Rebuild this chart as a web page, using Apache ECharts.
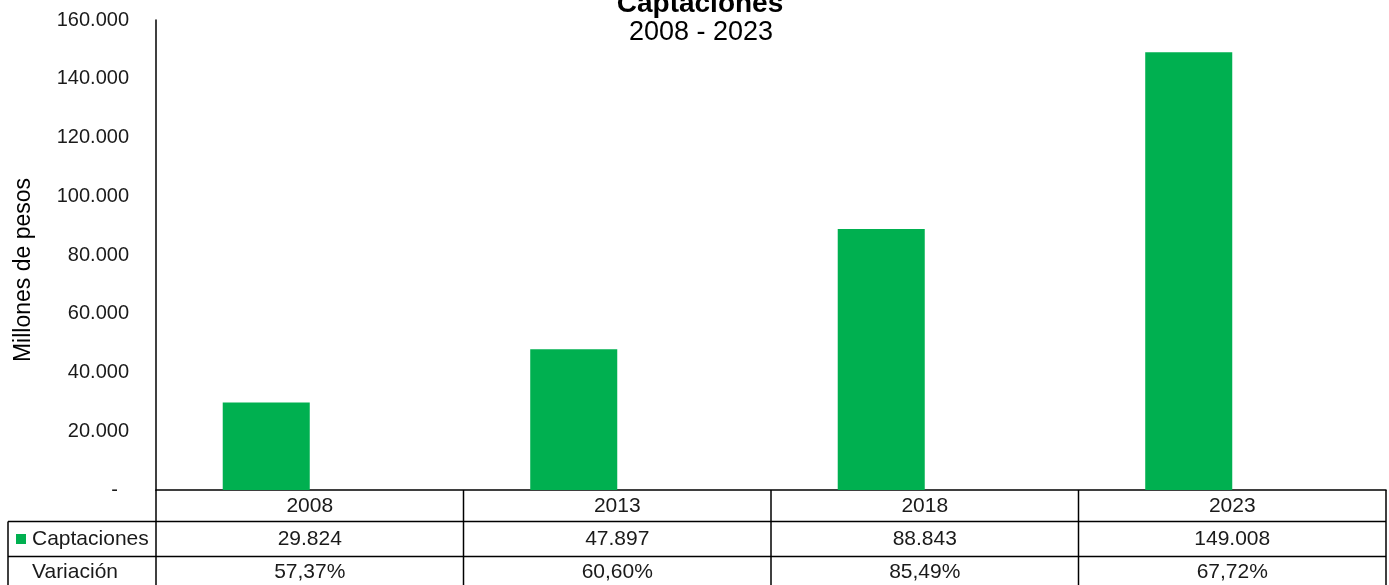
<!DOCTYPE html>
<html>
<head>
<meta charset="utf-8">
<script src="https://cdn.jsdelivr.net/npm/echarts@6/dist/echarts.min.js"></script>
<style>
html,body{margin:0;padding:0;background:#fff;}
#chart{width:1389px;height:585px;}
</style>
</head>
<body>
<div id="chart"></div>
<script>
const categories = ['2008', '2013', '2018', '2023'];
const captaciones = [29824, 47897, 88843, 149008];
const variacion = [57.37, 60.60, 85.49, 67.72];
const rowLabels = ['Captaciones', 'Variación'];
const yTicks = [0, 20000, 40000, 60000, 80000, 100000, 120000, 140000, 160000];

const FONT = '"Liberation Sans", Arial, Helvetica, sans-serif';
const TXT = '#1a1a1a';
const GREEN = '#00B050';
const W = 1389, H = 585;
const gridL = 156, gridR = 3, gridT = 20, gridB = 95;
const plotW = W - gridL - gridR;
const colW = plotW / categories.length;
const rowY = [490, 521.5, 556.5, 590];
const tableLeft = 8;

function fmtThousands(v) {
  return String(Math.round(v)).replace(/\B(?=(\d{3})+(?!\d))/g, '.');
}
function fmtPct(v) {
  return v.toFixed(2).replace('.', ',') + '%';
}

const g = [];
const lineStyle = { stroke: '#000', lineWidth: 1.5 };
g.push({ type: 'line', shape: { x1: tableLeft, y1: rowY[1], x2: W - gridR, y2: rowY[1] }, style: lineStyle });
g.push({ type: 'line', shape: { x1: tableLeft, y1: rowY[2], x2: W - gridR, y2: rowY[2] }, style: lineStyle });
g.push({ type: 'line', shape: { x1: tableLeft, y1: rowY[1], x2: tableLeft, y2: H }, style: lineStyle });
g.push({ type: 'line', shape: { x1: gridL, y1: rowY[0], x2: gridL, y2: H }, style: lineStyle });
for (let i = 1; i <= categories.length; i++) {
  const x = gridL + colW * i;
  g.push({ type: 'line', shape: { x1: x, y1: rowY[0], x2: x, y2: H }, style: lineStyle });
}
g.push({ type: 'rect', shape: { x: 16, y: 534, width: 10, height: 10 }, style: { fill: GREEN } });
g.push({ type: 'text', x: 32, y: 539, style: { text: rowLabels[0], font: '21px ' + FONT, fill: TXT, textAlign: 'left', textVerticalAlign: 'middle' } });
g.push({ type: 'text', x: 32, y: 572, style: { text: rowLabels[1], font: '21px ' + FONT, fill: TXT, textAlign: 'left', textVerticalAlign: 'middle' } });
categories.forEach((c, i) => {
  const cx = gridL + colW * (i + 0.5);
  g.push({ type: 'text', x: cx, y: 539, style: { text: fmtThousands(captaciones[i]), font: '21px ' + FONT, fill: TXT, textAlign: 'center', textVerticalAlign: 'middle' } });
  g.push({ type: 'text', x: cx, y: 572, style: { text: fmtPct(variacion[i]), font: '21px ' + FONT, fill: TXT, textAlign: 'center', textVerticalAlign: 'middle' } });
});
g.push({ type: 'text', x: 24, y: 270, rotation: Math.PI / 2, style: { text: 'Millones de pesos', font: '23px ' + FONT, fill: '#000', textAlign: 'center', textVerticalAlign: 'middle' } });
g.push({ type: 'text', x: 700, y: 4, style: { text: 'Captaciones', font: 'bold 28px ' + FONT, fill: '#000', textAlign: 'center', textVerticalAlign: 'middle' } });
g.push({ type: 'text', x: 701, y: 33, style: { text: '2008 - 2023', font: '27px ' + FONT, fill: '#000', textAlign: 'center', textVerticalAlign: 'middle' } });

const chart = echarts.init(document.getElementById('chart'));
chart.setOption({
  animation: false,
  backgroundColor: '#fff',
  grid: { left: gridL, right: gridR, top: gridT, bottom: gridB, containLabel: false },
  xAxis: {
    type: 'category',
    data: categories,
    axisLine: { lineStyle: { color: '#000', width: 1.5 } },
    axisTick: { show: false },
    axisLabel: { fontFamily: FONT, fontSize: 21, color: TXT, margin: 6 }
  },
  yAxis: {
    type: 'value',
    min: yTicks[0],
    max: yTicks[yTicks.length - 1],
    interval: yTicks[1] - yTicks[0],
    axisLine: { show: true, lineStyle: { color: '#000', width: 1.5 } },
    axisTick: { show: false },
    splitLine: { show: false },
    axisLabel: {
      fontFamily: FONT, fontSize: 20, color: TXT, margin: 27,
      formatter: v => v === 0 ? '-  ' : fmtThousands(v)
    }
  },
  series: [
    {
      name: rowLabels[0], type: 'bar', data: captaciones,
      itemStyle: { color: GREEN }, barGap: '0%', barCategoryGap: '43.4%'
    },
    {
      name: rowLabels[1], type: 'bar', data: categories.map(() => '-'),
      itemStyle: { color: 'transparent' }
    }
  ],
  graphic: g
});
</script>
</body>
</html>
